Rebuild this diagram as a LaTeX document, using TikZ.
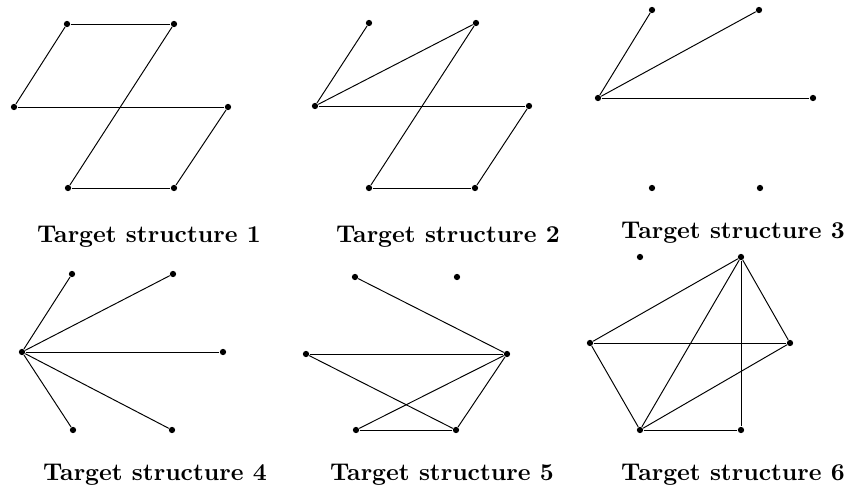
\documentclass[tikz,border=0pt]{standalone}
\usepackage{amsmath,amssymb}
\usepackage{tikz}
\usepackage{xcolor}

\begin{document}
\begin{tikzpicture}[x=0.4132pt, y=-0.4132pt,
    vertex/.style={circle,fill,inner sep=0pt,minimum size=2.6pt},
    caption/.style={anchor=base,font=\bfseries}]
    \useasboundingbox (0,0) rectangle (851,486);

    % structure 1
    \node[vertex] (a1) at (67,24) {};
    \node[vertex] (a2) at (174,24) {};
    \node[vertex] (a3) at (14,107) {};
    \node[vertex] (a4) at (228,107) {};
    \node[vertex] (a5) at (68,188) {};
    \node[vertex] (a6) at (174,188) {};
    \draw (a1) -- (a2);
    \draw (a1) -- (a3);
    \draw (a2) -- (a5);
    \draw (a3) -- (a4);
    \draw (a4) -- (a6);
    \draw (a5) -- (a6);
    \node[caption] (ca) at (149,242) {Target structure 1};

    % structure 2
    \node[vertex] (b1) at (369,23) {};
    \node[vertex] (b2) at (476,23) {};
    \node[vertex] (b3) at (315,106) {};
    \node[vertex] (b4) at (529,106) {};
    \node[vertex] (b5) at (369,188) {};
    \node[vertex] (b6) at (475,188) {};
    \draw (b1) -- (b3);
    \draw (b2) -- (b3);
    \draw (b2) -- (b5);
    \draw (b3) -- (b4);
    \draw (b4) -- (b6);
    \draw (b5) -- (b6);
    \node[caption] (cb) at (448,242) {Target structure 2};

    % structure 3
    \node[vertex] (c1) at (652,10) {};
    \node[vertex] (c2) at (759,10) {};
    \node[vertex] (c3) at (598,98) {};
    \node[vertex] (c4) at (813,98) {};
    \node[vertex] (c5) at (652,188) {};
    \node[vertex] (c6) at (760,188) {};
    \draw (c3) -- (c1);
    \draw (c3) -- (c2);
    \draw (c3) -- (c4);
    \node[caption] (cc) at (733,238) {Target structure 3};

    % structure 4
    \node[vertex] (d1) at (72,274) {};
    \node[vertex] (d2) at (173,274) {};
    \node[vertex] (d3) at (22,352) {};
    \node[vertex] (d4) at (223,352) {};
    \node[vertex] (d5) at (73,430) {};
    \node[vertex] (d6) at (172,430) {};
    \foreach \v in {d1,d2,d4,d5,d6}
        \draw (d3) -- (\v);
    \node[caption] (cd) at (155,480) {Target structure 4};

    % structure 5
    \node[vertex] (e1) at (355,277) {};
    \node[vertex] (e2) at (457,277) {};
    \node[vertex] (e3) at (306,354) {};
    \node[vertex] (e4) at (507,354) {};
    \node[vertex] (e5) at (356,430) {};
    \node[vertex] (e6) at (456,430) {};
    \draw (e1) -- (e4);
    \draw (e3) -- (e4);
    \draw (e3) -- (e6);
    \draw (e4) -- (e5);
    \draw (e4) -- (e6);
    \draw (e5) -- (e6);
    \node[caption] (ce) at (442,480) {Target structure 5};

    % structure 6
    \node[vertex] (f1) at (640,257) {};
    \node[vertex] (f2) at (741,257) {};
    \node[vertex] (f3) at (590,343) {};
    \node[vertex] (f4) at (790,343) {};
    \node[vertex] (f5) at (640,430) {};
    \node[vertex] (f6) at (741,430) {};
    \draw (f2) -- (f3);
    \draw (f2) -- (f5);
    \draw (f2) -- (f6);
    \draw (f2) -- (f4);
    \draw (f3) -- (f4);
    \draw (f3) -- (f5);
    \draw (f4) -- (f5);
    \draw (f5) -- (f6);
    \node[caption] (cf) at (733,480) {Target structure 6};
\end{tikzpicture}
\end{document}
